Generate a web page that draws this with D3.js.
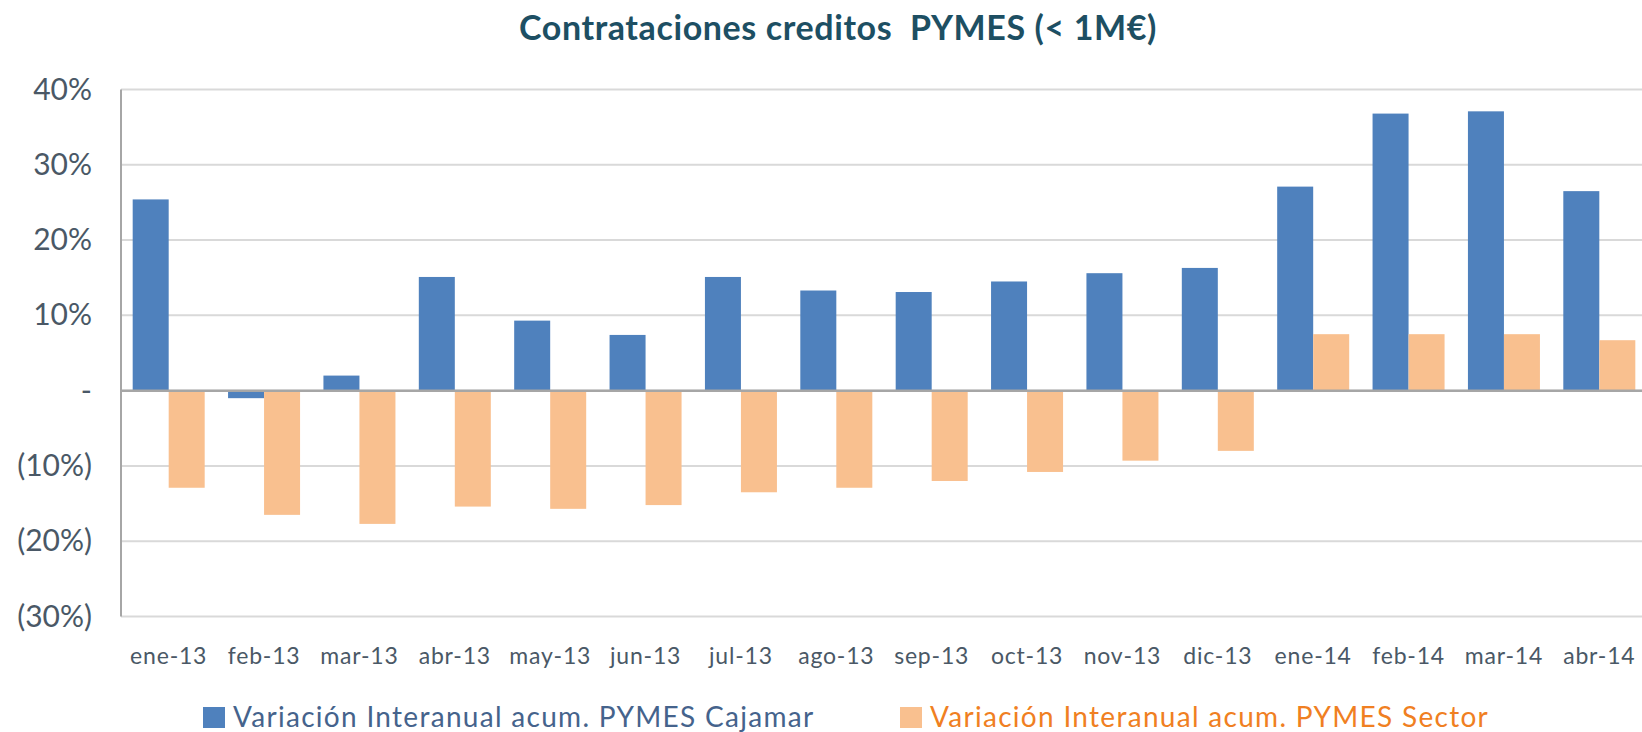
<!DOCTYPE html>
<html>
<head>
<meta charset="utf-8">
<script src="https://cdn.jsdelivr.net/npm/d3@7"></script>
<style>
  body { margin: 0; background: #fff; }
  text { font-family: Lato, "Open Sans", sans-serif; }
</style>
</head>
<body>
<div id="chart"></div>
<script>
// datos
const months = ["ene-13", "feb-13", "mar-13", "abr-13", "may-13", "jun-13", "jul-13", "ago-13",
  "sep-13", "oct-13", "nov-13", "dic-13", "ene-14", "feb-14", "mar-14", "abr-14"];
const seriesNames = ["Variación Interanual acum. PYMES Cajamar", "Variación Interanual acum. PYMES Sector"];
const cajamar = [0.254, -0.010, 0.020, 0.151, 0.093, 0.074, 0.151, 0.133,
  0.131, 0.145, 0.156, 0.163, 0.271, 0.368, 0.371, 0.265];
const sector = [-0.129, -0.165, -0.177, -0.154, -0.157, -0.152, -0.135, -0.129,
  -0.120, -0.108, -0.093, -0.080, 0.075, 0.075, 0.075, 0.067];
const yTicks = [-0.3, -0.2, -0.1, 0, 0.1, 0.2, 0.3, 0.4];

const width = 1642, height = 732;
const colors = ["#4F81BD", "#F9C08F"];
const legendColors = ["#45638c", "#F07F22"];

const svg = d3.select("#chart").append("svg")
  .attr("width", width)
  .attr("height", height);

// escalas
const x0 = d3.scaleBand()
  .domain(months)
  .range([121, 1647])
  .paddingInner(0.245)
  .paddingOuter(0.1225);

const x1 = d3.scaleBand()
  .domain([0, 1])
  .range([0, x0.bandwidth()]);

const y = d3.scaleLinear()
  .domain([-0.3, 0.4])
  .range([616.5, 89.5]);

function fmt(v) {
  const p = Math.round(Math.abs(v) * 100);
  if (p === 0) return "-";
  return v < 0 ? `(${p}%)` : `${p}%`;
}

// título
svg.append("text")
  .attr("x", 838)
  .attr("y", 40)
  .attr("text-anchor", "middle")
  .style("white-space", "pre")
  .attr("font-size", 34)
  .attr("letter-spacing", 0.6)
  .attr("font-weight", "bold")
  .attr("fill", "#1d4f63")
  .text("Contrataciones creditos  PYMES (< 1M€)");

// rejilla
svg.append("g")
  .selectAll("line")
  .data(yTicks)
  .join("line")
  .attr("x1", 121)
  .attr("x2", width)
  .attr("y1", d => y(d))
  .attr("y2", d => y(d))
  .attr("stroke", "#D9D9D9")
  .attr("stroke-width", 2);

// eje y
const yAxis = svg.append("g")
  .attr("transform", "translate(121,0)")
  .call(d3.axisLeft(y).tickValues(yTicks).tickFormat(fmt).tickSize(0).tickPadding(29));
yAxis.select(".domain").remove();
yAxis.selectAll("text")
  .attr("font-size", 30)
  .attr("fill", "#4a5866")
  .style("font-family", "Lato, sans-serif");

// barras
const data = months.map((m, i) => ({ month: m, values: [cajamar[i], sector[i]] }));

svg.append("g")
  .selectAll("g")
  .data(data)
  .join("g")
  .attr("transform", d => `translate(${x0(d.month)},0)`)
  .selectAll("rect")
  .data(d => d.values.map((v, k) => ({ k, v })))
  .join("rect")
  .attr("x", d => x1(d.k))
  .attr("width", x1.bandwidth())
  .attr("y", d => y(Math.max(0, d.v)))
  .attr("height", d => Math.abs(y(d.v) - y(0)))
  .attr("fill", d => colors[d.k]);

// línea del cero y eje vertical
svg.append("line")
  .attr("x1", 121).attr("x2", width)
  .attr("y1", y(0)).attr("y2", y(0))
  .attr("stroke", "#A6A6A6").attr("stroke-width", 2.5);

svg.append("line")
  .attr("x1", 121).attr("x2", 121)
  .attr("y1", y(0.4)).attr("y2", y(-0.3))
  .attr("stroke", "#A6A6A6").attr("stroke-width", 2);

// eje x (etiquetas)
const xAxis = svg.append("g")
  .attr("transform", "translate(0,664)")
  .call(d3.axisBottom(x0).tickSize(0).tickPadding(0));
xAxis.select(".domain").remove();
xAxis.selectAll("text")
  .attr("dy", 0)
  .attr("font-size", 23)
  .attr("letter-spacing", 0.8)
  .attr("fill", "#4a5866")
  .style("font-family", "Lato, sans-serif");

// leyenda
const legendX = [203, 900];
const legend = svg.append("g")
  .selectAll("g")
  .data(seriesNames)
  .join("g")
  .attr("transform", (d, i) => `translate(${legendX[i]},0)`);

legend.append("rect")
  .attr("x", 0)
  .attr("y", 707)
  .attr("width", 22)
  .attr("height", 21)
  .attr("fill", (d, i) => colors[i]);

legend.append("text")
  .attr("x", 30)
  .attr("y", 727)
  .attr("font-size", 28)
  .attr("letter-spacing", 1.3)
  .attr("fill", (d, i) => legendColors[i])
  .text(d => d);
</script>
</body>
</html>
